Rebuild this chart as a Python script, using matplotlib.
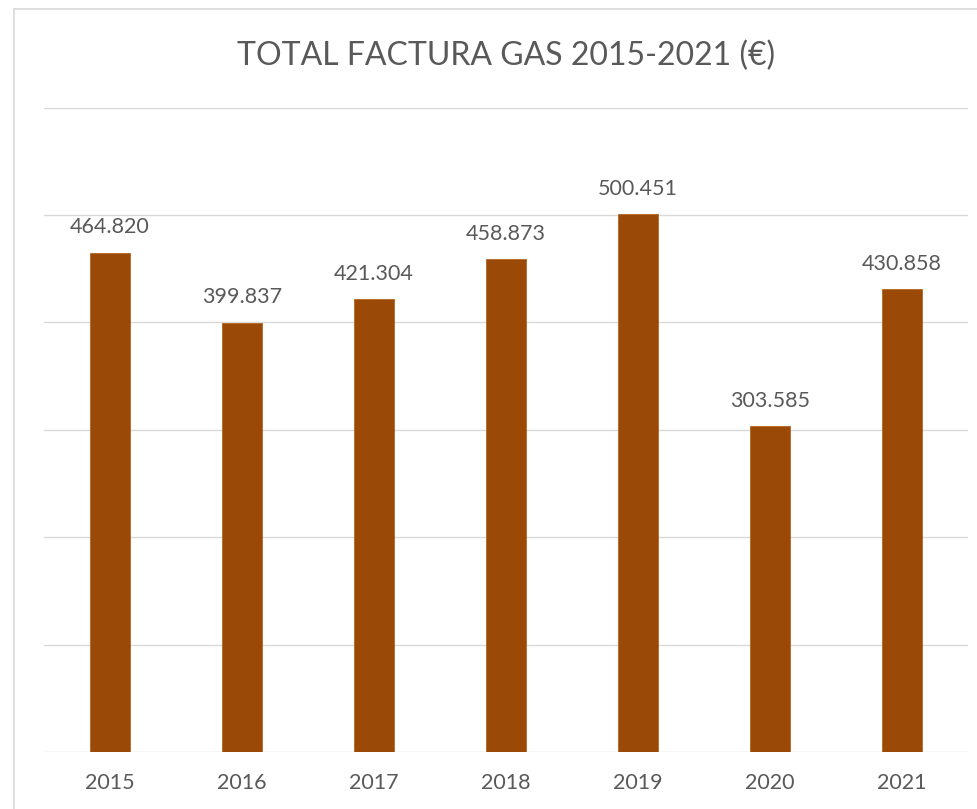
# plot.py
# Bar chart of the yearly gas bill totals, Excel-style.

import matplotlib
matplotlib.use('Agg')
import matplotlib.pyplot as plt
from matplotlib.patches import Rectangle

# --- Data ---
years = ['2015', '2016', '2017', '2018', '2019', '2020', '2021']
totals = [464820, 399837, 421304, 458873, 500451, 303585, 430858]
labels = ['464.820', '399.837', '421.304', '458.873', '500.451', '303.585', '430.858']

TITLE = 'TOTAL FACTURA GAS 2015-2021 (€)'
BAR_COLOR = '#9A4A06'
TEXT_COLOR = '#595959'
GRID_COLOR = '#D9D9D9'

W, H = 978, 809
plt.rcParams['font.family'] = ['Lato', 'DejaVu Sans']

fig = plt.figure(figsize=(W / 100, H / 100), dpi=100)

# chart area border (cropped on the right and bottom)
fig.patches.append(Rectangle((14 / W, -0.05), 1.2, (H - 9) / H + 0.05,
                             transform=fig.transFigure, fill=False,
                             edgecolor=GRID_COLOR, linewidth=1.2))

ax = fig.add_axes([44 / W, (H - 752) / H, (968 - 44) / W, (752 - 107.5) / H])
ax.bar(years, totals, width=0.31, color=BAR_COLOR, edgecolor='#B5651D', linewidth=0.6, zorder=3)

ax.set_ylim(0, 600000)
ax.set_xlim(-0.5, len(years) - 0.5)
ax.set_yticks(range(0, 600001, 100000))
ax.yaxis.grid(True, color=GRID_COLOR, linewidth=1.0)
ax.set_axisbelow(True)
ax.tick_params(axis='both', length=0)
ax.set_yticklabels([])
ax.tick_params(axis='x', labelsize=15.5, labelcolor=TEXT_COLOR, pad=15)
for side in ['top', 'right', 'left', 'bottom']:
    ax.spines[side].set_visible(False)

# value labels above the bars
for i, (v, lab) in enumerate(zip(totals, labels)):
    ax.annotate(lab, (i, v), xytext=(0, 11), textcoords='offset points',
                ha='center', va='bottom', fontsize=15.5, color=TEXT_COLOR)

fig.text((44 + 968) / 2 / W, 1 - 56 / H, TITLE, ha='center', va='center',
         fontsize=23, color=TEXT_COLOR)

fig.savefig('out.png', dpi=100)
